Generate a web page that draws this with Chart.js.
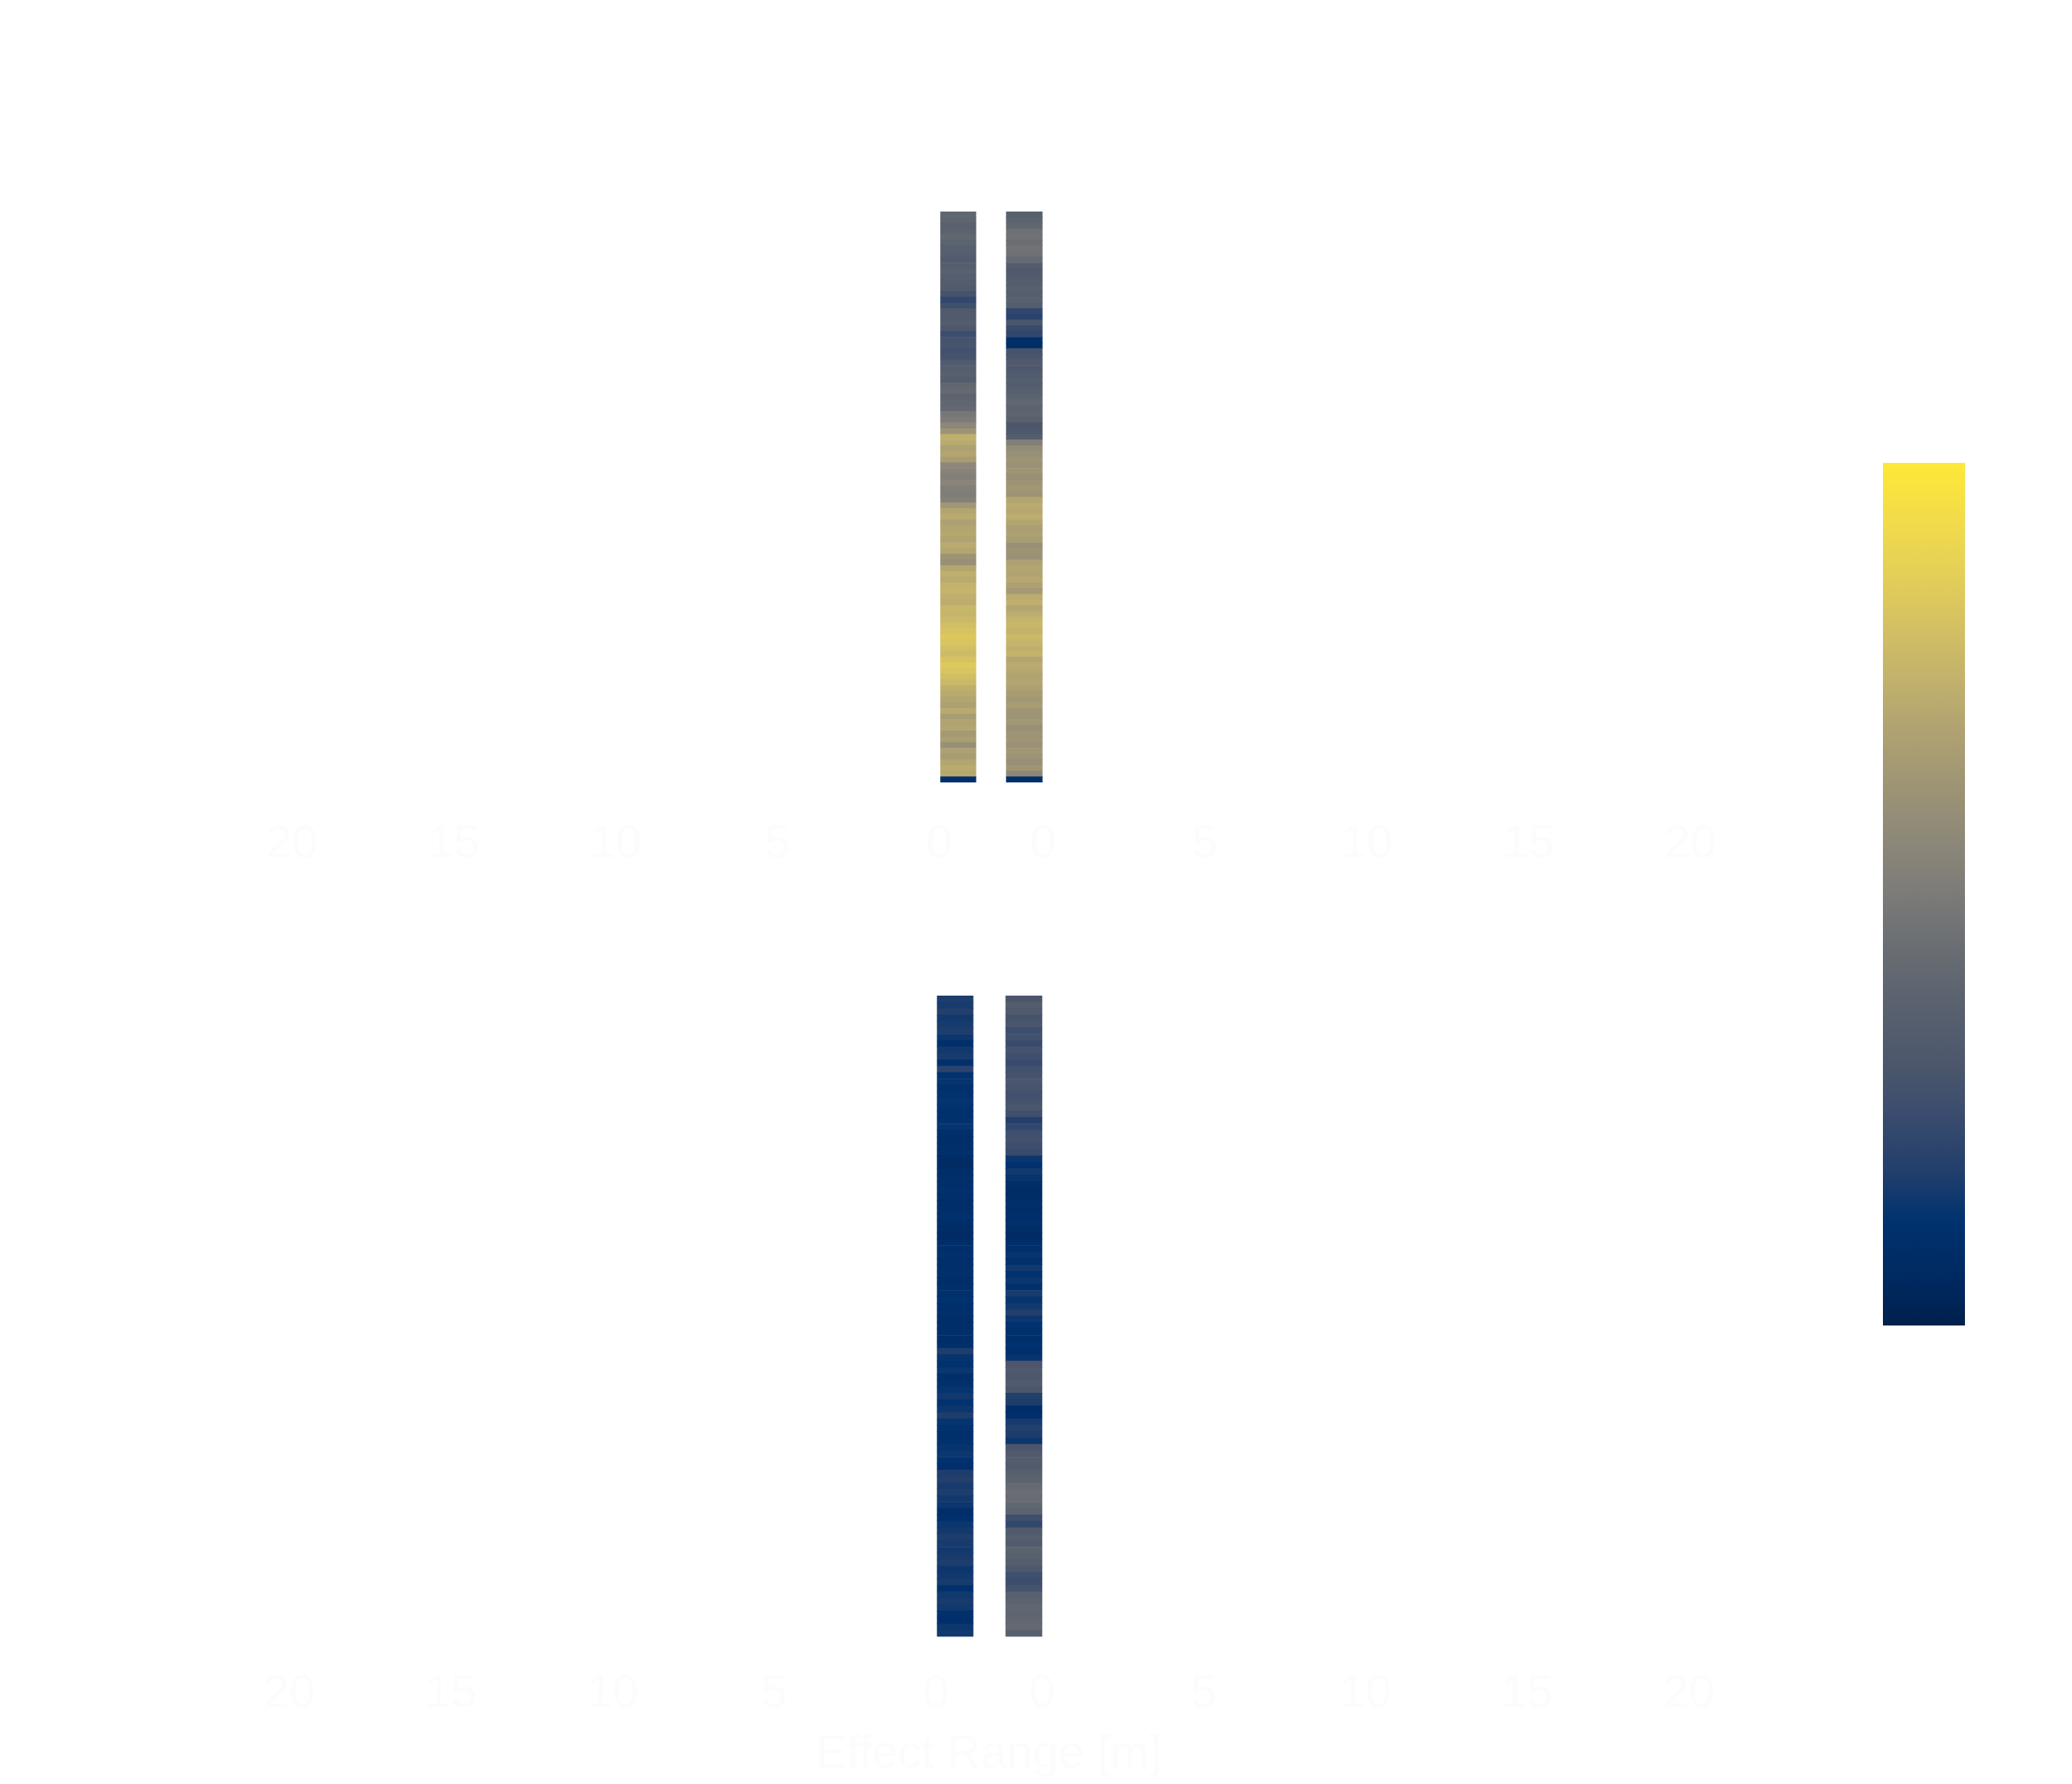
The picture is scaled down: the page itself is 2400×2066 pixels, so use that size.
<!DOCTYPE html>
<html>
<head>
<meta charset="utf-8">
<script src="https://cdn.jsdelivr.net/npm/chart.js@4.4.0/dist/chart.umd.min.js"></script>
<style>
  html, body { margin: 0; padding: 0; background: #fff; }
  body { width: 2400px; height: 2066px; position: relative; overflow: hidden; }
  .box { position: absolute; }
</style>
</head>
<body>
<div class="box" style="left:238px;top:225px;width:1820px;height:836px"><canvas id="topChart"></canvas></div>
<div class="box" style="left:235px;top:1133px;width:1821px;height:936px"><canvas id="bottomChart"></canvas></div>
<div class="box" style="left:2181px;top:536px;width:95px;height:999px"><canvas id="colorbar"></canvas></div>
<script>
// tick labels on each half of the axis (mirrored around the centre)
const rangeTicks = [20, 15, 10, 5, 0];

// normalised values, one per row, top row first
const topLeft = [
  0.40, 0.39, 0.37, 0.38, 0.40, 0.38, 0.36, 0.35, 0.33, 0.35, 0.37, 0.35, 0.34, 0.33,
  0.28, 0.22, 0.26,
  0.32, 0.33, 0.34, 0.31,
  0.25, 0.28, 0.29, 0.27,
  0.28, 0.33, 0.35, 0.36, 0.34,
  0.40, 0.42, 0.38, 0.40, 0.41,
  0.48, 0.50, 0.56, 0.62,
  0.74, 0.72, 0.68, 0.70, 0.66,
  0.56, 0.54, 0.52, 0.55, 0.52, 0.51, 0.53,
  0.64, 0.70, 0.72, 0.68, 0.70, 0.71, 0.69, 0.72, 0.70,
  0.62, 0.60,
  0.70, 0.74, 0.72, 0.75, 0.76, 0.74, 0.73, 0.77, 0.76, 0.78,
  0.80, 0.82, 0.84, 0.83, 0.80, 0.79, 0.82, 0.85, 0.83,
  0.80, 0.78, 0.74, 0.72,
  0.70, 0.68, 0.72, 0.66, 0.69, 0.70, 0.65, 0.67,
  0.60,
  0.68, 0.66, 0.70, 0.72, 0.71,
  0.10
];
const topRight = [
  0.36, 0.38, 0.40,
  0.45, 0.46, 0.44, 0.46, 0.45, 0.42,
  0.34, 0.32, 0.33, 0.35,
  0.36, 0.35, 0.37, 0.34,
  0.22, 0.20, 0.30, 0.24, 0.22, 0.10, 0.08,
  0.28, 0.30, 0.32, 0.31, 0.33, 0.35, 0.34, 0.36,
  0.38, 0.40, 0.38, 0.39, 0.37,
  0.30, 0.31, 0.34,
  0.52, 0.58, 0.60, 0.62, 0.61, 0.63, 0.60, 0.62, 0.64, 0.62,
  0.70, 0.72, 0.71, 0.73, 0.70,
  0.67, 0.68, 0.66,
  0.60, 0.62, 0.61,
  0.68, 0.70, 0.69, 0.71, 0.68, 0.65,
  0.72, 0.74, 0.70, 0.73,
  0.76, 0.77, 0.75, 0.78, 0.76, 0.74, 0.75,
  0.70, 0.72, 0.71, 0.69, 0.70, 0.68, 0.66,
  0.64, 0.66, 0.63, 0.62, 0.64, 0.60, 0.62, 0.63, 0.61, 0.64, 0.62, 0.60, 0.63,
  0.56,
  0.10
];
const bottomLeft = [
  0.17, 0.16, 0.18, 0.15, 0.16, 0.17, 0.14,
  0.10,
  0.15, 0.16,
  0.11,
  0.20,
  0.12, 0.13, 0.11, 0.12, 0.13, 0.12, 0.11, 0.12, 0.13,
  0.10, 0.09, 0.10, 0.11, 0.08, 0.07, 0.09, 0.10, 0.10, 0.11,
  0.10, 0.09, 0.10, 0.11, 0.09, 0.08, 0.07, 0.09, 0.10, 0.11,
  0.10, 0.10, 0.11, 0.09, 0.10, 0.11, 0.12, 0.10, 0.11, 0.09,
  0.09, 0.10, 0.09, 0.10, 0.17,
  0.13, 0.12, 0.14, 0.10, 0.11,
  0.13, 0.15, 0.12, 0.14, 0.17, 0.13, 0.12, 0.10, 0.11, 0.13, 0.14, 0.12, 0.10,
  0.17, 0.18, 0.16, 0.17, 0.15, 0.14,
  0.09, 0.10,
  0.14, 0.15, 0.17, 0.16, 0.15, 0.16, 0.17, 0.14, 0.15, 0.16, 0.11, 0.15, 0.16, 0.15, 0.11, 0.10, 0.14, 0.15
];
const bottomRight = [
  0.30, 0.34, 0.32, 0.28, 0.30,
  0.25, 0.27, 0.24, 0.28, 0.26, 0.24,
  0.27, 0.28, 0.30, 0.29, 0.27, 0.28, 0.30, 0.26,
  0.18, 0.22,
  0.26, 0.27, 0.25, 0.24,
  0.14, 0.12, 0.15, 0.13,
  0.09, 0.07, 0.08, 0.10, 0.09, 0.10, 0.11, 0.08, 0.07, 0.09, 0.10,
  0.13, 0.11, 0.15, 0.12, 0.14, 0.11, 0.16, 0.13, 0.15, 0.18, 0.14,
  0.12, 0.11, 0.10, 0.12, 0.10, 0.13,
  0.30, 0.32, 0.31, 0.33, 0.30,
  0.18, 0.17,
  0.09, 0.10,
  0.16, 0.18, 0.17, 0.14,
  0.30, 0.32, 0.34, 0.33, 0.36, 0.38,
  0.42, 0.44, 0.43, 0.40, 0.38,
  0.26, 0.22,
  0.32, 0.35, 0.33, 0.38, 0.36, 0.34, 0.31,
  0.26, 0.25, 0.28,
  0.36, 0.38, 0.40, 0.39, 0.40, 0.41, 0.36
];

// cividis colour stops
const cividisStops = [
  [0.00, [0, 32, 77]], [0.06, [0, 42, 98]], [0.12, [0, 50, 111]], [0.18, [35, 63, 108]],
  [0.25, [60, 77, 110]], [0.31, [78, 88, 108]], [0.375, [90, 98, 111]], [0.44, [106, 110, 115]],
  [0.50, [124, 123, 120]], [0.56, [140, 135, 120]], [0.625, [158, 148, 117]], [0.69, [176, 162, 113]],
  [0.75, [194, 178, 108]], [0.81, [212, 192, 99]], [0.875, [229, 208, 87]], [0.94, [243, 221, 72]],
  [1.00, [254, 232, 56]]
];

function cividis(v) {
  v = Math.max(0, Math.min(1, v));
  for (let i = 1; i < cividisStops.length; i++) {
    const [t1, c1] = cividisStops[i];
    if (v <= t1) {
      const [t0, c0] = cividisStops[i - 1];
      const f = (v - t0) / (t1 - t0);
      const c = c0.map((a, k) => Math.round(a + (c1[k] - a) * f));
      return `rgb(${c[0]},${c[1]},${c[2]})`;
    }
  }
  return 'rgb(254,232,56)';
}

const textColor = '#fcfcfc';
const font = { family: "'Liberation Sans', Arial, sans-serif", size: 54 };

// build one panel: two strips placed either side of the mirrored zero
function makePanel(id, left, right, gap, strips, tickPad, showTitle) {
  const rows = left.map((_, i) => String(i));
  const tickValues = rangeTicks.map(t => -(t + gap)).concat(rangeTicks.slice().reverse().map(t => t + gap));
  const ds = (vals, span) => ({
    data: vals.map(() => span),
    backgroundColor: vals.map(cividis),
    borderWidth: 0,
    grouped: false,
    barPercentage: 1,
    categoryPercentage: 1
  });

  return new Chart(document.getElementById(id), {
    type: 'bar',
    data: {
      labels: rows,
      datasets: [ds(left, strips[0]), ds(right, strips[1])]
    },
    options: {
      indexAxis: 'y',
      responsive: true,
      maintainAspectRatio: false,
      animation: false,
      layout: { padding: { left: 100, right: 100, top: 20, bottom: showTitle ? 0 : 10 } },
      plugins: { legend: { display: false }, tooltip: { enabled: false } },
      scales: {
        y: { type: 'category', display: false },
        x: {
          type: 'linear',
          min: -(20 + gap) - 0.0001,
          max: 20 + gap + 0.0001,
          grid: { display: false, drawTicks: false },
          border: { display: false },
          afterBuildTicks: scale => { scale.ticks = tickValues.map(v => ({ value: v })); },
          ticks: {
            autoSkip: false,
            maxRotation: 0,
            padding: tickPad,
            color: textColor,
            font: font,
            callback: v => String(Math.round(Math.abs(v) - gap))
          },
          title: {
            display: showTitle,
            text: 'Effect Range [m]',
            color: textColor,
            font: font,
            padding: { top: -28, bottom: 4 }
          }
        }
      }
    }
  });
}

makePanel('topChart', topLeft, topRight, 1.6, [[-1.56, -0.47], [0.47, 1.58]], 40, false);
makePanel('bottomChart', bottomLeft, bottomRight, 1.64, [[-1.60, -0.49], [0.52, 1.64]], 34, true);

// colorbar
new Chart(document.getElementById('colorbar'), {
  type: 'bar',
  data: {
    labels: ['scale'],
    datasets: [{
      data: [[0, 1]],
      borderWidth: 0,
      barPercentage: 1,
      categoryPercentage: 1,
      backgroundColor: ctx => {
        const area = ctx.chart.chartArea;
        if (!area) return null;
        const g = ctx.chart.ctx.createLinearGradient(0, area.bottom, 0, area.top);
        cividisStops.forEach(([t, c]) => g.addColorStop(t, `rgb(${c[0]},${c[1]},${c[2]})`));
        return g;
      }
    }]
  },
  options: {
    responsive: true,
    maintainAspectRatio: false,
    animation: false,
    layout: { padding: 0 },
    plugins: { legend: { display: false }, tooltip: { enabled: false } },
    scales: {
      x: { display: false },
      y: { display: false, min: 0, max: 1 }
    }
  }
});
</script>
</body>
</html>
